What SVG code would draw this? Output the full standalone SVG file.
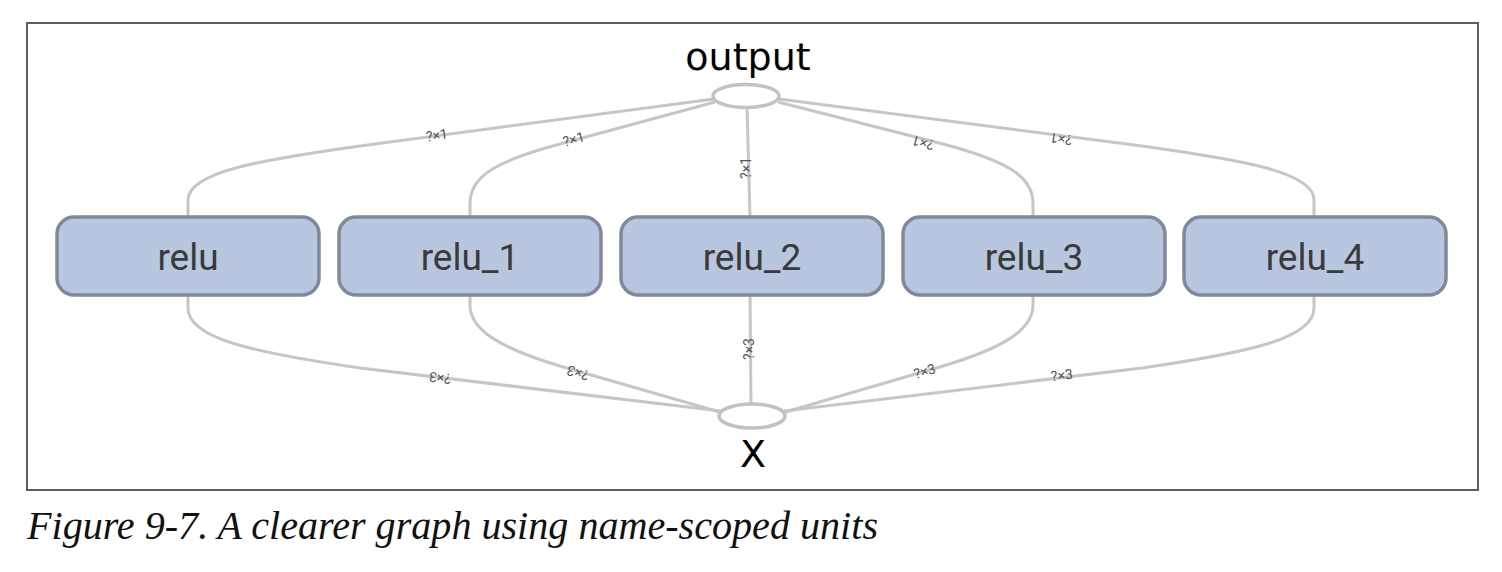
<svg xmlns="http://www.w3.org/2000/svg" width="1502" height="572" viewBox="0 0 1502 572">
<style>
.frame{fill:#fff;stroke:#5e5e5e;stroke-width:2}
.edge{fill:none;stroke:#c6c6c6;stroke-width:3}
.op{fill:#fff;stroke:#c2c2c2;stroke-width:3.5}
.box{fill:#b9c6e0;stroke:#80889a;stroke-width:3.5}
.name{font-family:Roboto,"Liberation Sans",sans-serif;font-size:37px;fill:#3a3a3a;text-anchor:middle}
.opname{font-family:"DejaVu Sans",sans-serif;font-size:38px;fill:#000;text-anchor:middle}
.lbl{font-family:Roboto,"Liberation Sans",sans-serif;font-size:14px;fill:#555;text-anchor:middle}
.cap{font-family:"Liberation Serif","Times New Roman",serif;font-style:italic;font-size:40px;fill:#111}
</style>
<rect class="frame" x="27" y="23" width="1451" height="467"/>
<g id="connectors">
<path class="edge" d="M188,217 V200 C188,172 260,160 360,146 L714,99"/>
<path class="edge" d="M470,217 V203 C470,175 500,160 560,144 L715,102"/>
<path class="edge" d="M750,217 L747,107"/>
<path class="edge" d="M1033,217 V203 C1033,175 1003,160 943,144 L778,102"/>
<path class="edge" d="M1314,217 V200 C1314,172 1242,160 1142,146 L779,99"/>
<path class="edge" d="M188,295 V308 C188,338 250,352 360,368 L721,411"/>
<path class="edge" d="M470,295 V305 C470,330 500,348 560,366 L723,413"/>
<path class="edge" d="M750,295 L751,404"/>
<path class="edge" d="M1033,295 V305 C1033,330 1003,348 943,366 L782,413"/>
<path class="edge" d="M1314,295 V308 C1314,338 1252,352 1142,368 L784,411"/>
<text class="lbl" transform="translate(437,136) rotate(-7.6)" y="4">?×1</text>
<text class="lbl" transform="translate(574,140) rotate(-15.6)" y="4">?×1</text>
<text class="lbl" transform="translate(747,168) rotate(-90)" y="4">?×1</text>
<text class="lbl" transform="translate(923,142) rotate(194.4)" y="4">?×1</text>
<text class="lbl" transform="translate(1061,138) rotate(187.4)" y="4">?×1</text>
<text class="lbl" transform="translate(440,377) rotate(186.8)" y="4">?×3</text>
<text class="lbl" transform="translate(578,372) rotate(196)" y="4">?×3</text>
<text class="lbl" transform="translate(750,349) rotate(-90)" y="4">?×3</text>
<text class="lbl" transform="translate(925,372) rotate(-16.5)" y="4">?×3</text>
<text class="lbl" transform="translate(1062,376) rotate(-6.9)" y="4">?×3</text>
</g>
<g id="output">
<ellipse class="op" cx="746" cy="96" rx="33" ry="11.5"/>
<text class="opname" x="748" y="70">output</text>
</g>
<g id="X">
<ellipse class="op" cx="752" cy="416" rx="33" ry="12"/>
<text class="opname" x="753" y="467">X</text>
</g>
<g id="relu">
<rect class="box" x="57" y="217" width="262" height="78" rx="17"/>
<text class="name" x="188" y="270">relu</text>
</g>
<g id="relu_1">
<rect class="box" x="339" y="217" width="262" height="78" rx="17"/>
<text class="name" x="470" y="270">relu_1</text>
</g>
<g id="relu_2">
<rect class="box" x="621" y="217" width="262" height="78" rx="17"/>
<text class="name" x="752" y="270">relu_2</text>
</g>
<g id="relu_3">
<rect class="box" x="903" y="217" width="262" height="78" rx="17"/>
<text class="name" x="1034" y="270">relu_3</text>
</g>
<g id="relu_4">
<rect class="box" x="1184" y="217" width="262" height="78" rx="17"/>
<text class="name" x="1315" y="270">relu_4</text>
</g>
<text class="cap" x="27" y="539" textLength="851" lengthAdjust="spacingAndGlyphs">Figure 9-7. A clearer graph using name-scoped units</text>
</svg>
